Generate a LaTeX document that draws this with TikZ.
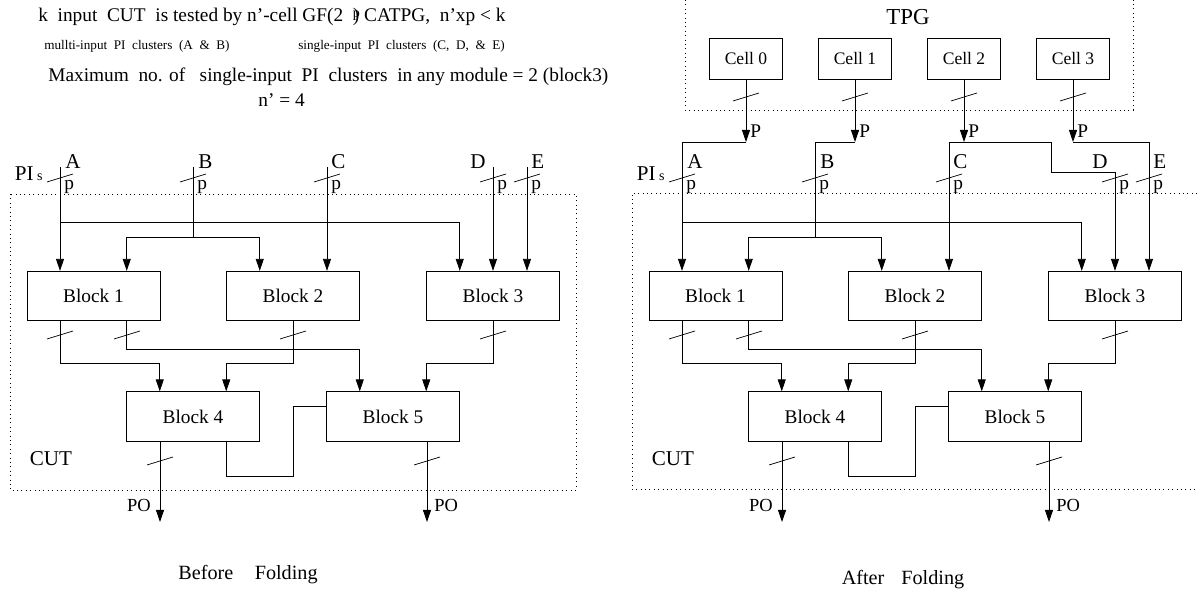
\documentclass[tikz,border=0pt]{standalone}
\usepackage{fontspec}
\setmainfont{Liberation Serif}
\usetikzlibrary{arrows.meta, positioning}

\newcommand{\fsz}[1]{\fontsize{#1}{#1}\selectfont}

\begin{document}
\begin{tikzpicture}[
  x=0.02cm, y=-0.02cm,
  block/.style={rectangle, draw=black, line width=0.45pt, minimum width=2.66cm, minimum height=0.99cm, inner sep=0pt, font=\fsz{11}},
  cell/.style={rectangle, draw=black, line width=0.45pt, minimum width=1.46cm, minimum height=0.82cm, inner sep=0pt, font=\fsz{10}},
  wire/.style={line width=0.45pt},
  arrow/.style={line width=0.45pt, -{Triangle[length=2.4mm, width=1.6mm]}},
  region/.style={line width=0.5pt, dotted},
  note/.style={anchor=west, inner sep=0pt, font=\fsz{11}},
  inlbl/.style={inner sep=0pt, font=\fsz{12}},
  buslbl/.style={inner sep=0pt, font=\fsz{11}},
  bus/.pic={\draw[line width=0.4pt] (-13,4) -- (13,-4);}
]
\useasboundingbox (0,0) rectangle (1197,590);

% Notes on top
\node[note] (title) at (38,17) {k\ \ input\ \ CUT\ \ is tested by n'-cell GF(2\ \ \rlap{\raisebox{0.5ex}{\fsz{8}p}}) CATPG,\ \ n'xp < k};
\node[note, font=\fsz{7.5}] (multi) at (44,46) {mullti-input\ \ PI\ \ clusters\ \ (A\ \ \&\ \ B)};
\node[note, font=\fsz{7.5}] (single) at (298,46) {single-input\ \ PI\ \ clusters\ \ (C,\ \ D,\ \ \&\ \ E)};
\node[note] (maxno) at (48,77) {Maximum\ \ no. of\ \ \ single-input\ \ PI\ \ clusters\ \ in any module = 2 (block3)};
\node[note] (ncells) at (258,100) {n' = 4};

% CUT regions
\draw[region] (10,194) rectangle (576,490);
\draw[region] (1197,193) -| (632,489) -- (1197,489);

% The same CUT, before and after folding
\foreach \side/\dx/\dtop in {L/0/167, R/622/172} {
  \begin{scope}[shift={(\dx,0)}]
    \coordinate (\side A) at (60,167);
    \coordinate (\side B) at (193,167);
    \coordinate (\side C) at (327,167);
    \coordinate (\side D) at (493,\dtop);
    \coordinate (\side E) at (527,167);
    \coordinate (\side ja) at (60,222);
    \coordinate (\side jb) at (193,237);
    \coordinate (\side po1) at (160,522);
    \coordinate (\side po2) at (427,522);

    \node[inlbl, anchor=base west] (\side lA) at (65,169) {A};
    \node[inlbl, anchor=base west] (\side lB) at (198,169) {B};
    \node[inlbl, anchor=base west] (\side lC) at (331,169) {C};
    \node[inlbl, anchor=base east] (\side lD) at (486,169) {D};
    \node[inlbl, anchor=base west] (\side lE) at (531,169) {E};
    \node[inlbl, anchor=base east] (\side pi) at (43,181) {PI\,{\fsz{8}s}};
    \node[inlbl] (\side cut) at (51,459) {CUT};

    \node[block] (\side b1) at (93.5,296) {Block 1};
    \node[block] (\side b2) at (293,296) {Block 2};
    \node[block] (\side b3) at (493,296) {Block 3};
    \node[block] (\side b4) at (193,416.5) {Block 4};
    \node[block] (\side b5) at (393,416.5) {Block 5};

    % primary inputs
    \draw[arrow] (\side A) -- (\side A |- \side b1.north);
    \draw[arrow] (\side ja) -| ([xshift=-0.665cm]\side b3.north);
    \draw[wire] (\side B) -- (\side jb);
    \draw[arrow] (\side jb) -| ([xshift=0.665cm]\side b1.north);
    \draw[arrow] (\side jb) -| ([xshift=-0.665cm]\side b2.north);
    \draw[arrow] (\side C) -- (\side C |- \side b2.north);
    \draw[arrow] (\side D) -- (\side D |- \side b3.north);
    \draw[arrow] (\side E) -- (\side E |- \side b3.north);
    \foreach \x in {60,193,327,493,527} {
      \pic at (\x,178) {bus};
      \node[buslbl, anchor=north west] (\side p\x) at (\x+4,180) {p};
    }

    % internal buses
    \draw[arrow] ([xshift=-0.665cm]\side b1.south) -- ++(0,42) -| ([xshift=-0.665cm]\side b4.north);
    \draw[arrow] ([xshift=0.665cm]\side b1.south) -- ++(0,28) -| ([xshift=-0.665cm]\side b5.north);
    \draw[arrow] (\side b2.south) -- ++(0,42) -| ([xshift=0.665cm]\side b4.north);
    \draw[arrow] (\side b3.south) -- ++(0,42) -| ([xshift=0.665cm]\side b5.north);
    \draw[wire] ([yshift=0.21cm]\side b5.west) -- ++(-33,0) -- ++(0,70) -| ([xshift=0.665cm]\side b4.south);
    \foreach \x in {60,127,293,493} {
      \pic at (\x,335) {bus};
    }

    % primary outputs
    \draw[arrow] (\side b4.south -| \side po1) -- (\side po1);
    \draw[arrow] (\side b5.south -| \side po2) -- (\side po2);
    \pic at (160,461) {bus};
    \pic at (427,461) {bus};
    \node[buslbl, anchor=east, font=\fsz{10.5}] (\side lpo1) at (151,505) {PO};
    \node[buslbl, anchor=west, font=\fsz{10.5}] (\side lpo2) at (434,505) {PO};
  \end{scope}
}

% TPG
\draw[region] (685,0) |- (1133,110) -- (1133,0);
\node[font=\fsz{13}] (tpg) at (908,17) {TPG};
\node[cell] (c0) at (746,58.5) {Cell 0};
\node[cell] (c1) at (855,58.5) {Cell 1};
\node[cell] (c2) at (964,58.5) {Cell 2};
\node[cell] (c3) at (1073,58.5) {Cell 3};
\coordinate (j0) at (746,142);
\coordinate (j1) at (855,142);
\coordinate (j2) at (964,142);
\coordinate (j3) at (1073,142);
\coordinate (jcd) at (1051,142);
\foreach \c/\x in {0/746,1/855,2/964,3/1073} {
  \draw[arrow] (c\c) -- (j\c);
  \pic at (\x,97) {bus};
  \node[buslbl, anchor=west] (pl\c) at (\x+4,131) {P};
}
\draw[wire] (j0) -| (RA);
\draw[wire] (j1) -| (RB);
\draw[wire] (RC) |- (jcd) |- (RD);
\draw[wire] (j3) -| (RE);

% captions
\node[font=\fsz{11.5}] (before) at (248,575) {Before\hspace{0.43cm}Folding};
\node[font=\fsz{11.5}] (after) at (903,580) {After\hspace{0.34cm}Folding};
\end{tikzpicture}
\end{document}
